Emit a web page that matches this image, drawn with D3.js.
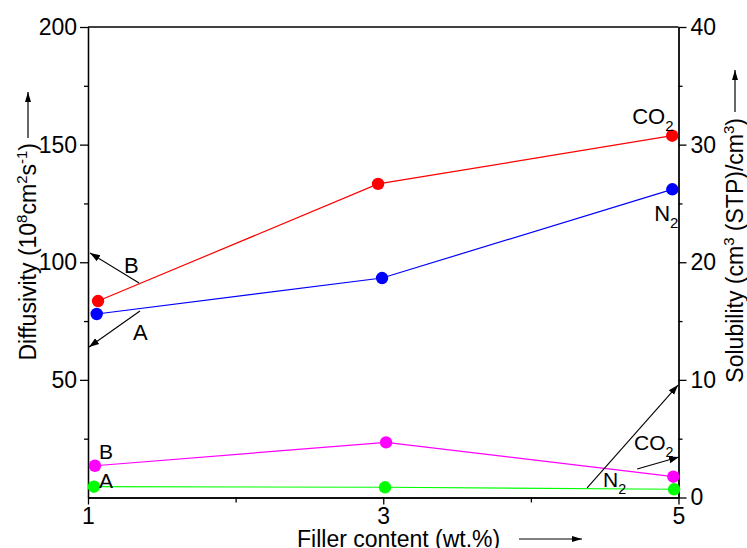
<!DOCTYPE html>
<html><head><meta charset="utf-8">
<script src="https://cdn.jsdelivr.net/npm/d3@7"></script>
<style>
body{margin:0;background:#fff}
svg{display:block}
text{font-family:"Liberation Sans",Arial,Helvetica,sans-serif;fill:#000}
</style>
</head><body><svg id="c" width="747" height="548"></svg>
<script>
// ---- data ----
const xTicks = [1, 3, 5];
const xMinorTicks = [2, 4];
const diffTicks = [50, 100, 150, 200];
const diffMinorTicks = [25, 75, 125, 175];
const solTicks = [0, 10, 20, 30, 40];
const solMinorTicks = [5, 15, 25, 35];

const co2DiffX = [1.068, 2.965, 4.957];
const co2Diff  = [83.5, 133.3, 153.8];
const n2DiffX  = [1.059, 2.992, 4.958];
const n2Diff   = [78.0, 93.3, 131.0];
const co2SolX  = [1.047, 3.019, 4.965];
const co2Sol   = [2.70, 4.69, 1.77];
const n2SolX   = [1.040, 3.012, 4.970];
const n2Sol    = [0.92, 0.87, 0.70];

// annotation arrows [x1, y1, x2, y2] in data units (axis given)
const arrowB   = [1.346, 91.2, 1.014, 103.9];
const arrowA   = [1.352, 79.3, 1.007, 64.0];
const arrowN2  = [4.381, 0.81, 4.997, 9.56];
const arrowCO2 = [4.720, 2.42, 5.003, 3.44];

// ---- layout ----
const svg = d3.select("#c");
const x  = d3.scaleLinear().domain([1, 5]).range([88, 678.5]);
const yL = d3.scaleLinear().domain([0, 200]).range([497.5, 27]);
const yR = d3.scaleLinear().domain([0, 40]).range([497.5, 27]);
const FS = 23, TFS = 23;

const defs = svg.append("defs");
defs.append("marker").attr("id","ah").attr("viewBox","0 0 10 10")
  .attr("refX",10).attr("refY",5).attr("markerWidth",10).attr("markerHeight",10)
  .attr("markerUnits","userSpaceOnUse").attr("orient","auto")
  .append("path").attr("d","M0,1.5L10,5L0,8.5Z").attr("fill","#000");
defs.append("marker").attr("id","ah2").attr("viewBox","0 0 10 10")
  .attr("refX",10).attr("refY",5).attr("markerWidth",12).attr("markerHeight",10)
  .attr("markerUnits","userSpaceOnUse").attr("orient","auto")
  .append("path").attr("d","M0,2L10,5L0,8Z").attr("fill","#000");

function styleAxis(g){
  g.select(".domain").attr("stroke","#000").attr("stroke-width",1.3);
  g.selectAll(".tick line").attr("stroke","#000").attr("stroke-width",1.3);
  g.selectAll(".tick text").attr("font-size",FS).attr("font-family",'"Liberation Sans",Arial,sans-serif').attr("fill","#000");
}

// left axis
svg.append("g").attr("transform","translate(88,0)")
  .call(d3.axisLeft(yL).tickValues(diffTicks).tickSize(8).tickPadding(3).tickSizeOuter(0))
  .call(styleAxis);
svg.append("g").attr("transform","translate(88,0)")
  .call(d3.axisLeft(yL).tickValues(diffMinorTicks).tickSize(4).tickFormat("").tickSizeOuter(0))
  .call(styleAxis);
// right axis
svg.append("g").attr("transform","translate(678.5,0)")
  .call(d3.axisRight(yR).tickValues(solTicks).tickSize(8).tickPadding(4).tickSizeOuter(0))
  .call(styleAxis);
svg.append("g").attr("transform","translate(678.5,0)")
  .call(d3.axisRight(yR).tickValues(solMinorTicks).tickSize(4).tickFormat("").tickSizeOuter(0))
  .call(styleAxis);
// bottom axis
svg.append("g").attr("transform","translate(0,497.5)")
  .call(d3.axisBottom(x).tickValues(xTicks).tickFormat(d3.format("d")).tickSize(7).tickPadding(3).tickSizeOuter(0))
  .call(styleAxis);
svg.append("g").attr("transform","translate(0,497.5)")
  .call(d3.axisBottom(x).tickValues(xMinorTicks).tickSize(5).tickFormat("").tickSizeOuter(0))
  .call(styleAxis);
// top frame
svg.append("line").attr("x1",x(1)).attr("x2",x(5)).attr("y1",yL(200)).attr("y2",yL(200))
  .attr("stroke","#000").attr("stroke-width",1.3);

// ---- series ----
const series = [
  {xs: co2DiffX, ys: co2Diff, y: yL, color: "#ff0000"},
  {xs: n2DiffX,  ys: n2Diff,  y: yL, color: "#0000ff"},
  {xs: co2SolX,  ys: co2Sol,  y: yR, color: "#ff00ff"},
  {xs: n2SolX,   ys: n2Sol,   y: yR, color: "#00ff00"}
];
series.forEach(s => {
  const pts = s.xs.map((v,i) => [v, s.ys[i]]);
  svg.append("path").datum(pts)
    .attr("d", d3.line().x(d => x(d[0])).y(d => s.y(d[1])))
    .attr("fill","none").attr("stroke",s.color).attr("stroke-width",1.2);
  svg.selectAll(null).data(pts).enter().append("circle")
    .attr("cx", d => x(d[0])).attr("cy", d => s.y(d[1])).attr("r",6.2)
    .attr("fill", s.color);
});

// ---- annotations ----
function arrow(a, ys){
  svg.append("line").attr("x1",x(a[0])).attr("y1",ys(a[1]))
    .attr("x2",x(a[2])).attr("y2",ys(a[3]))
    .attr("stroke","#000").attr("stroke-width",1.1).attr("marker-end","url(#ah)");
}
arrow(arrowB, yL); arrow(arrowA, yL); arrow(arrowN2, yR); arrow(arrowCO2, yR);

function label(px, py, main, sub, size){
  const t = svg.append("text").attr("x",px).attr("y",py).attr("font-size",size);
  t.append("tspan").text(main);
  if (sub) t.append("tspan").attr("dy",7).attr("font-size",size*0.68).text(sub);
  return t;
}
label(x(1.244), yL(95.5), "B", null, 22);
label(x(1.305), yL(66.9), "A", null, 22);
label(x(1.075), yR(3.27), "B", null, 21);
label(x(1.075), yR(0.80), "A", null, 21);
label(x(4.686), yL(158.8), "CO", "2", 22);
label(x(4.835), yL(117.5), "N", "2", 22);
label(x(4.699), yR(4.04), "CO", "2", 21);
label(x(4.489), yR(0.92), "N", "2", 21);

// ---- axis titles ----
// left
const lt = svg.append("text").attr("transform","translate(36,143) rotate(-90)")
  .attr("text-anchor","end").attr("font-size",TFS);
lt.append("tspan").text("Diffusivity (10");
lt.append("tspan").attr("dy",-9).attr("font-size",15).text("8");
lt.append("tspan").attr("dy",9).text("cm");
lt.append("tspan").attr("dy",-9).attr("font-size",15).text("2");
lt.append("tspan").attr("dy",9).text("s");
lt.append("tspan").attr("dy",-9).attr("font-size",15).text("-1");
lt.append("tspan").attr("dy",9).text(")");
svg.append("line").attr("x1",28).attr("x2",28).attr("y1",138).attr("y2",92)
  .attr("stroke","#000").attr("stroke-width",1.2).attr("marker-end","url(#ah2)");
// right
const rt = svg.append("text").attr("transform","translate(743,118) rotate(-90)")
  .attr("text-anchor","end").attr("font-size",TFS);
rt.append("tspan").text("Solubility (cm");
rt.append("tspan").attr("dy",-9).attr("font-size",15).text("3");
rt.append("tspan").attr("dy",9).text(" (STP)/cm");
rt.append("tspan").attr("dy",-9).attr("font-size",15).text("3");
rt.append("tspan").attr("dy",9).text(")");
svg.append("line").attr("x1",735).attr("x2",735).attr("y1",112).attr("y2",70)
  .attr("stroke","#000").attr("stroke-width",1.2).attr("marker-end","url(#ah2)");
// bottom
svg.append("text").attr("x",297).attr("y",547).attr("font-size",TFS).text("Filler content (wt.%)");
svg.append("line").attr("x1",519).attr("x2",582).attr("y1",539).attr("y2",539)
  .attr("stroke","#000").attr("stroke-width",1.2).attr("marker-end","url(#ah2)");
</script>
</body></html>
